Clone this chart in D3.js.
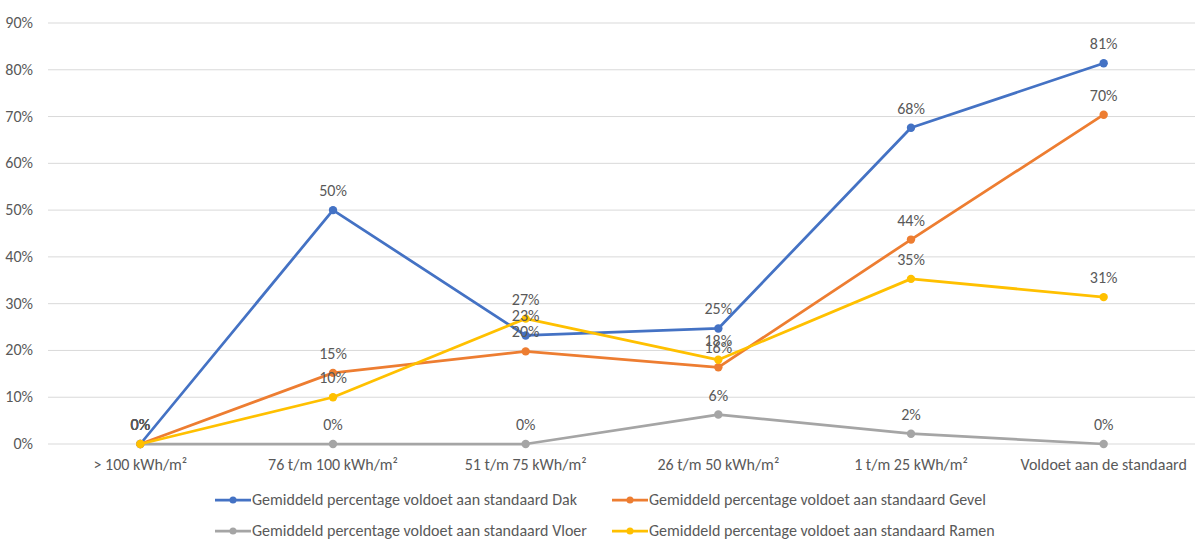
<!DOCTYPE html>
<html>
<head>
<meta charset="utf-8">
<script src="https://cdnjs.cloudflare.com/ajax/libs/d3/7.8.5/d3.min.js"></script>
<style>
  body { margin: 0; background: #fff; }
  text { font-family: Calibri, Carlito, Lato, sans-serif; fill: #595959; }
</style>
</head>
<body>
<div id="chart"></div>
<script>
var categories = ["> 100 kWh/m²", "76 t/m 100 kWh/m²", "51 t/m 75 kWh/m²", "26 t/m 50 kWh/m²", "1 t/m 25 kWh/m²", "Voldoet aan de standaard"];
var dak   = [0, 50, 23.2, 24.7, 67.6, 81.4];
var gevel = [0, 15.2, 19.8, 16.4, 43.7, 70.4];
var vloer = [0, 0, 0, 6.3, 2.2, 0];
var ramen = [0, 10, 26.8, 18, 35.3, 31.4];
var yTicks = [0, 10, 20, 30, 40, 50, 60, 70, 80, 90];

var seriesNames = [
    "Gemiddeld percentage voldoet aan standaard Dak",
    "Gemiddeld percentage voldoet aan standaard Gevel",
    "Gemiddeld percentage voldoet aan standaard Vloer",
    "Gemiddeld percentage voldoet aan standaard Ramen"
];
var seriesValues = [dak, gevel, vloer, ramen];
var colors = ["#4472C4", "#ED7D31", "#A5A5A5", "#FFC000"];

var width = 1195, height = 541;
var fontSize = "16px";

var svg = d3.select("#chart").append("svg")
    .attr("width", width)
    .attr("height", height);

var x = d3.scaleBand()
    .domain(categories)
    .range([44, 1200]);

var y = d3.scaleLinear()
    .domain([0, 90])
    .range([444, 23]);

// grid lines
svg.append("g").selectAll("line")
    .data(yTicks)
    .enter().append("line")
    .attr("x1", 48).attr("x2", 1195)
    .attr("y1", d => y(d)).attr("y2", d => y(d))
    .attr("stroke", "#d9d9d9")
    .attr("stroke-width", 1);

// y labels
svg.append("g").selectAll("text")
    .data(yTicks)
    .enter().append("text")
    .attr("x", 33)
    .attr("y", d => y(d) + 5)
    .attr("text-anchor", "end")
    .style("font-size", fontSize)
    .text(d => d + "%");

// x labels
svg.append("g").selectAll("text")
    .data(categories)
    .enter().append("text")
    .attr("x", d => x(d) + x.bandwidth() / 2)
    .attr("y", 470)
    .attr("text-anchor", "middle")
    .style("font-size", fontSize)
    .text(d => d);

var line = d3.line()
    .x((d, i) => x(categories[i]) + x.bandwidth() / 2)
    .y(d => y(d));

seriesValues.forEach(function(vals, s) {
    var g = svg.append("g");
    g.append("path")
        .datum(vals)
        .attr("d", line)
        .attr("fill", "none")
        .attr("stroke", colors[s])
        .attr("stroke-width", 2.75)
        .attr("stroke-linejoin", "round");
    g.selectAll("circle")
        .data(vals)
        .enter().append("circle")
        .attr("cx", (d, i) => x(categories[i]) + x.bandwidth() / 2)
        .attr("cy", d => y(d))
        .attr("r", 4.2)
        .attr("fill", colors[s]);
});

// data labels
seriesValues.forEach(function(vals, s) {
    svg.append("g").selectAll("text")
        .data(vals)
        .enter().append("text")
        .attr("x", (d, i) => x(categories[i]) + x.bandwidth() / 2)
        .attr("y", d => y(d) - 14)
        .attr("text-anchor", "middle")
        .style("font-size", fontSize)
        .text(d => Math.round(d) + "%");
});

// legend
var legendPos = [[215, 500], [612, 500], [215, 531], [612, 531]];
seriesNames.forEach(function(name, s) {
    var lg = svg.append("g").attr("transform", "translate(" + legendPos[s][0] + "," + legendPos[s][1] + ")");
    lg.append("line")
        .attr("x1", 0).attr("x2", 36)
        .attr("y1", 0).attr("y2", 0)
        .attr("stroke", colors[s])
        .attr("stroke-width", 2.75);
    lg.append("circle")
        .attr("cx", 18).attr("cy", 0).attr("r", 3.5)
        .attr("fill", colors[s]);
    lg.append("text")
        .attr("x", 37)
        .attr("y", 5)
        .style("font-size", fontSize)
        .text(name);
});
</script>
</body>
</html>
